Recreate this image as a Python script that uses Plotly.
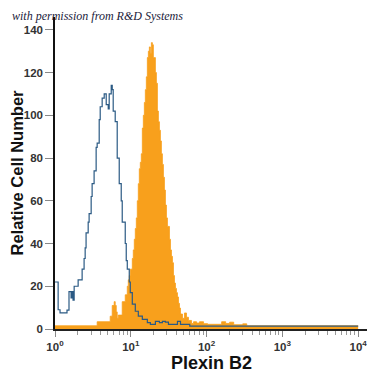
import plotly.graph_objects as go

# ---- data (fluorescence intensity, relative cell number) ----
iso_x = [1.00, 1.10, 1.165, 1.44, 1.53, 1.63, 1.68, 1.73, 1.79, 2.02, 2.28, 2.42, 2.50, 2.57,
         2.74, 2.82, 3.00, 3.09, 3.28, 3.49, 3.60, 3.83, 3.95, 4.19, 4.46, 4.74, 5.04, 5.19,
         5.52, 5.69, 5.86, 6.23, 6.62, 7.04, 7.48, 7.71, 8.45, 8.71, 8.99, 9.55, 9.85, 10.47,
         11.47, 12.57, 14.20, 16.54, 18.13, 21.12, 23.86, 26.13, 28.6, 31.39, 41.30, 45.26,
         60.0, 10000]
iso_y = [22, 9, 7.5, 8.8, 17.5, 14.5, 17.5, 13.5, 20, 23, 28, 33, 38, 45,
         50, 54, 62, 68, 74, 85, 87, 98, 104, 108, 110, 105, 103, 110,
         114, 112, 102, 97, 80, 68, 60, 50, 40, 32, 28, 22, 17, 11.6,
         8.3, 6, 4.5, 3, 2.2, 3.6, 3.0, 3.6, 3.2, 2.2, 3.6, 2.2,
         1.3, 1.3]

plx_x = [1.00, 3.60, 5.35, 5.69, 6.04, 6.23, 6.43, 6.62, 6.83, 7.71, 8.45, 8.99, 9.27, 9.55,
         9.85, 10.47, 10.79, 11.13, 11.47, 11.83, 12.19, 12.57, 12.96, 13.36, 13.77, 14.20,
         14.64, 15.10, 15.56, 16.04, 16.54, 17.05, 17.58, 18.13, 18.69, 19.27, 19.86, 20.48,
         21.12, 21.77, 22.45, 23.14, 23.86, 24.59, 25.35, 26.13, 26.94, 27.78, 28.64, 29.53,
         30.44, 32.36, 33.36, 34.39, 35.45, 36.55, 37.68, 38.85, 40.06, 41.30, 42.58, 43.90,
         45.26, 48.11, 51.1, 54.3, 57.73, 63.24, 67.3, 73.8, 80.77, 91.2, 103, 158.0, 178.6,
         201.7, 228, 300, 339, 10000]
plx_y = [1.5, 3.4, 6, 11, 12.8, 11, 8, 5, 6.5, 12.8, 16, 20, 23, 25,
         28, 33, 37, 42, 47, 52, 60, 68, 75, 78, 82, 94,
         100, 106, 112, 118, 127, 130, 132, 129, 134, 133, 127, 127,
         120, 115, 102, 97, 93, 88, 82, 77, 71, 65, 58, 52,
         48, 42, 37, 34, 31, 25, 21.5, 19, 17, 15, 12, 9.8,
         7, 5, 7.5, 5.5, 4, 2.6, 3.4, 2.8, 3.4, 2.5, 2.2, 3.4, 2.6,
         3.2, 2.0, 2.4, 1.5, 1.5]

x_tickvals = [1, 10, 100, 1000, 10000]
x_ticktext = ["10<sup>0</sup>", "10<sup>1</sup>", "10<sup>2</sup>", "10<sup>3</sup>", "10<sup>4</sup>"]
y_tickvals = [0, 20, 40, 60, 80, 100, 120, 140]

minor_vals = [m * 10 ** k for k in range(4) for m in range(2, 10)]

ORANGE = "#F8A01C"
BLUE = "#2b5a84"

fig = go.Figure()
fig.add_trace(go.Scatter(
    x=plx_x, y=plx_y, mode="lines", line_shape="hv",
    line=dict(color=ORANGE, width=0.8), fill="tozeroy", fillcolor=ORANGE,
    hoverinfo="skip", showlegend=False))
fig.add_trace(go.Scatter(
    x=iso_x, y=iso_y, mode="lines", line_shape="hv",
    line=dict(color=BLUE, width=1.2),
    hoverinfo="skip", showlegend=False))

tickfont = dict(family="Liberation Sans, Arial, sans-serif", size=11.5, color="#333", weight="bold")

# page body adds an 8px offset, so the figure is sized 367 to fill the 375 window
fig.update_layout(
    width=367, height=367,
    margin=dict(l=47, r=7, t=9, b=46),
    paper_bgcolor="white", plot_bgcolor="white",
    xaxis=dict(
        type="log", range=[0, 4.13], automargin=False,
        tickmode="array", tickvals=x_tickvals, ticktext=x_ticktext,
        ticks="outside", ticklen=6, tickcolor="#888", tickwidth=1,
        minor=dict(tickmode="array", tickvals=minor_vals, ticks="outside",
                   ticklen=4, tickcolor="#999", showgrid=False),
        showline=True, linecolor="#222", linewidth=1.5,
        showgrid=False, zeroline=False, tickfont=tickfont,
        title=dict(text="Plexin B2", standoff=4,
                   font=dict(family="Liberation Sans, Arial, sans-serif", size=18,
                             color="#111", weight="bold")),
    ),
    yaxis=dict(
        range=[0, 146], tickmode="array", tickvals=y_tickvals, automargin=False,
        ticks="outside", ticklen=8, tickcolor="#888", tickwidth=1,
        ticklabelstandoff=0,
        showline=True, linecolor="#111", linewidth=1.5,
        showgrid=False, zeroline=False, tickfont=tickfont,
        title=dict(text="Relative Cell Number", standoff=6,
                   font=dict(family="Liberation Sans, Arial, sans-serif", size=16.5,
                             color="#111", weight="bold")),
    ),
    annotations=[dict(
        text="with permission from R&amp;D Systems", xref="paper", yref="paper",
        x=-0.145, y=1.003, xanchor="left", yanchor="middle", showarrow=False,
        font=dict(family="Liberation Serif, serif", size=12, color="#1b1b3b", style="italic"),
    )],
)

fig.write_html("out.html")
